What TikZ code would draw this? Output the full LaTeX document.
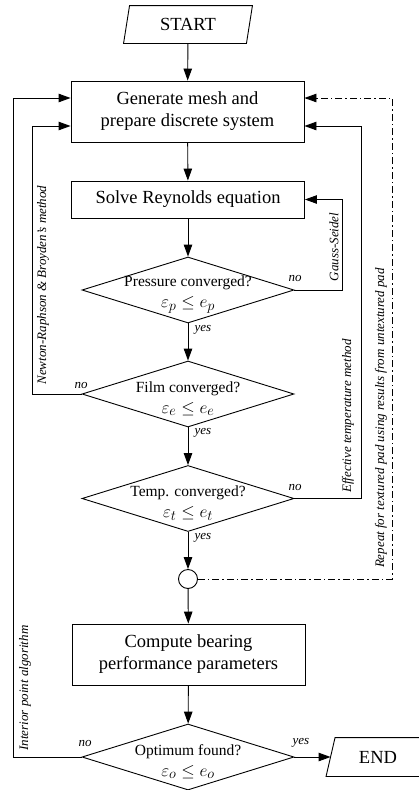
\documentclass[tikz,border=0pt]{standalone}
\usepackage{fontspec}
\setmainfont{Liberation Serif}
\usetikzlibrary{arrows.meta,shapes.geometric,calc}
\newcommand{\mysz}{\fontsize{19}{21}\selectfont}
\begin{document}
\begin{tikzpicture}[x=1pt,y=-1pt,
  line width=0.9pt,
  arr/.style={-{Triangle[length=12pt,width=8.5pt]}},
  proc/.style={draw, minimum width=233pt, align=center, font=\fontsize{18.5}{22}\selectfont, inner sep=0pt},
  dec/.style={draw, diamond, minimum width=212pt, minimum height=66pt, inner sep=0pt},
  dectext/.style={align=center, font=\fontsize{15.5}{21}\selectfont, inner sep=0pt},
  lab/.style={font=\fontsize{13}{15}\selectfont\itshape, inner sep=0pt},
  side/.style={lab, rotate=90},
  dd/.style={dash pattern=on 7pt off 3pt on 1.5pt off 3pt},
  term/.style={inner sep=0pt, font=\fontsize{18.5}{22}\selectfont}
]
\useasboundingbox (0,0) rectangle (419,790);

% terminals
\node[term, minimum width=122pt, minimum height=37pt] (start) at (188,24.5) {START};
\draw ([xshift=3pt]start.north west) -- ([xshift=3pt]start.north east) -- ([xshift=-3pt]start.south east) -- ([xshift=-3pt]start.south west) -- cycle;
\node[term, minimum width=94pt, minimum height=38pt] (end) at (378,757) {END};
\draw ([xshift=4.5pt]end.north west) -- ([xshift=4.5pt]end.north east) -- ([xshift=-4.5pt]end.south east) -- ([xshift=-4.5pt]end.south west) -- cycle;

% process boxes
\node[proc, minimum height=61pt] (gen) at (187.5,111.5) {Generate mesh and\\prepare discrete system};
\node[proc, minimum height=37pt] (solve) at (188,199.5) {Solve Reynolds equation};
\node[proc, minimum height=61pt] (comp) at (188.5,654.5) {Compute bearing\\performance parameters};

% decisions
\node[dec] (p) at (188,290) {};
\node[dectext] at (188,294.5) {Pressure converged?\\{\mysz$\varepsilon_p\le e_p$}};
\node[dec] (f) at (188,394) {};
\node[dectext] at (188,398.5) {Film converged?\\{\mysz$\varepsilon_e\le e_e$}};
\node[dec] (t) at (188,498.5) {};
\node[dectext] at (188,503) {Temp. converged?\\{\mysz$\varepsilon_t\le e_t$}};
\node[dec] (o) at (188,757) {};
\node[dectext] at (188,761.5) {Optimum found?\\{\mysz$\varepsilon_o\le e_o$}};

% junction
\node[draw, circle, minimum size=19pt, inner sep=0pt] (c) at (188,579) {};

% loop coordinates
\coordinate (xgs) at (342,0);
\coordinate (xnr) at (32,0);
\coordinate (xet) at (361,0);
\coordinate (xip) at (13,0);
\coordinate (xrp) at (392,0);

% main flow
\draw[arr] (start) -- (gen);
\draw[arr] (gen) -- (solve);
\draw[arr] (solve) -- (p);
\draw[arr] (p) -- (f);
\draw[arr] (f) -- (t);
\draw[arr] (t) -- (c);
\draw[arr] (c) -- (comp);
\draw[arr] (comp) -- (o);
\draw[arr] (o.east) -- (end.west);

% loops
\draw[arr] (p.east) -- (p.east -| xgs) -- (xgs |- solve.east) -- (solve.east);
\draw[arr] (f.west) -- (f.west -| xnr) -- ($(xnr |- gen.west)+(0,14.5)$) -- ([yshift=-14.5pt]gen.west);
\draw[arr] (t.east) -- (t.east -| xet) -- ($(xet |- gen.east)+(0,14.5)$) -- ([yshift=-14.5pt]gen.east);
\draw[arr] (o.west) -- (o.west -| xip) -- ($(xip |- gen.west)+(0,-13.5)$) -- ([yshift=13.5pt]gen.west);
\draw[dd] (c.east) -- (c.east -| xrp) -- ($(xrp |- gen.east)+(0,-13.5)$) -- ([yshift=13.5pt]gen.east);
\draw[arr] ($(gen.east)+(12,-13.5)$) -- ([yshift=13.5pt]gen.east);

% yes/no labels
\node[lab] at (295,278) {no};
\node[lab] at (81,385) {no};
\node[lab] at (295,487) {no};
\node[lab] at (85,743) {no};
\node[lab] at (203,330) {yes};
\node[lab] at (203,433) {yes};
\node[lab] at (203,538) {yes};
\node[lab] at (301,743) {yes};

% side labels
\node[side] at (43,285) {Newton-Raphson \& Broyden's method};
\node[side] at (334,247) {Gauss-Seidel};
\node[side] at (348,416) {Effective temperature method};
\node[side] at (381,418) {Repeat for textured pad using results from untextured pad};
\node[side] at (25,688) {Interior point algorithm};
\end{tikzpicture}
\end{document}
